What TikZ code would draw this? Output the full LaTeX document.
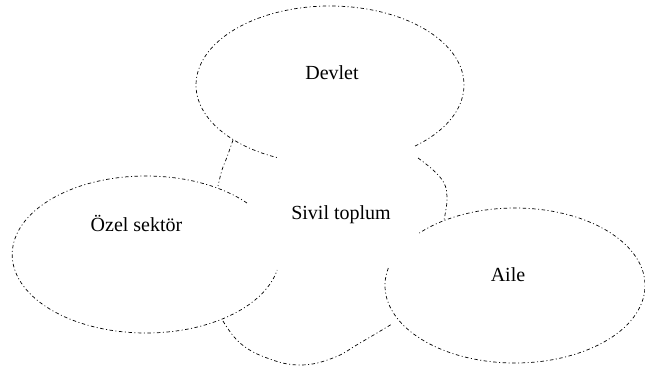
\documentclass[tikz,border=0pt]{standalone}
\usepackage{fontspec}
\setmainfont{Liberation Serif}
\begin{document}
\begin{tikzpicture}[x=1pt,y=1pt,
  dline/.style={draw=black, line width=0.7pt, dash pattern=on 3.5pt off 2.5pt on 1pt off 2.5pt},
  lbl/.style={anchor=base, inner sep=0pt, font=\fontsize{20}{24}\selectfont}]
\useasboundingbox (0,0) rectangle (645,372);
% ellipse centres
\coordinate (cD) at (330,287);
\coordinate (cO) at (146,117.5);
\coordinate (cA) at (515,86.5);
% outer ellipses (open arcs)
\draw[dline] ([shift={(-50.6:134pt and 79pt)}]cD) arc[start angle=-50.6, end angle=246.7, x radius=134pt, y radius=79pt];
\draw[dline] ([shift={(41:133.8pt and 78.5pt)}]cO) arc[start angle=41, end angle=348.6, x radius=133.8pt, y radius=78.5pt];
\draw[dline] ([shift={(167:130pt and 77.5pt)}]cA) arc[start angle=167, end angle=497.4, x radius=130pt, y radius=77.5pt];
% civil society outline pieces
\draw[dline] plot[smooth, tension=0.7] coordinates {(233,232) (227,215) (222,202) (218,186)};
\draw[dline] plot[smooth, tension=0.7] coordinates {(418,214) (433,202) (444,189) (447,175) (446,163) (444,152)};
\draw[dline] plot[smooth, tension=0.7] coordinates {(223,51) (240,29) (267,14) (300,7) (333,14) (360,29) (392,48)};
% labels
\node[lbl] (devlet) at (332,292) {Devlet};
\node[lbl] (ozel) at (136.5,140) {Özel sektör};
\node[lbl] (aile) at (508,90) {Aile};
\node[lbl] (sivil) at (341,152) {Sivil toplum};
\end{tikzpicture}
\end{document}
